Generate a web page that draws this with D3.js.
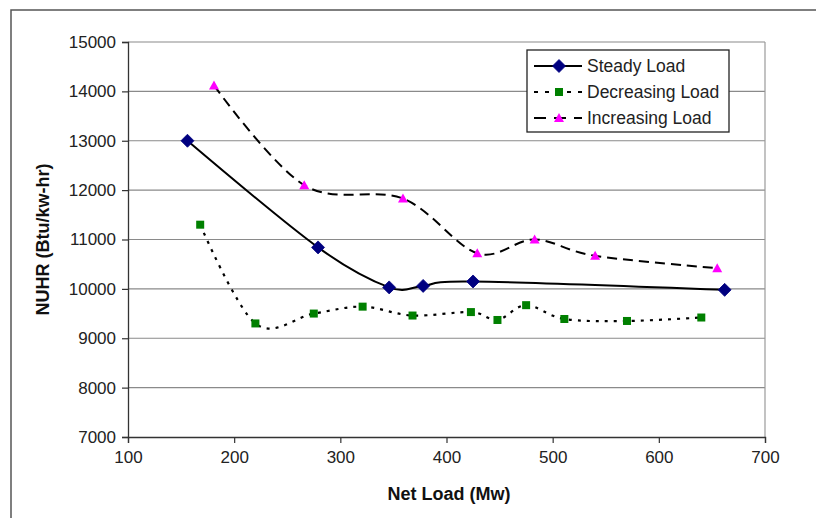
<!DOCTYPE html>
<html><head><meta charset="utf-8">
<script src="https://cdn.jsdelivr.net/npm/d3@7"></script>
<style>body{margin:0;background:#fff}svg{display:block}</style>
</head><body>
<svg id="c" width="816" height="518"></svg>
<script>
const steadyX = [156, 279, 346, 378, 425, 662];
const steadyY = [13000, 10840, 10030, 10060, 10150, 9980];
const decX = [168, 220, 275, 321, 368, 423, 448, 475, 511, 570, 640];
const decY = [11300, 9300, 9500, 9640, 9460, 9530, 9370, 9670, 9390, 9350, 9420];
const incX = [181, 266, 359, 429, 483, 540, 655];
const incY = [14120, 12100, 11830, 10720, 11000, 10670, 10420];
const xTicks = [100, 200, 300, 400, 500, 600, 700];
const yTicks = [7000, 8000, 9000, 10000, 11000, 12000, 13000, 14000, 15000];
const seriesNames = ["Steady Load", "Decreasing Load", "Increasing Load"];

const svg = d3.select("#c");
const L = 128, R = 765, T = 42, B = 437;
const x = d3.scaleLinear().domain([100, 700]).range([L, R]);
const y = d3.scaleLinear().domain([7000, 15000]).range([B, T]);
const font = "Liberation Sans, Arial, sans-serif";

// outer frame
svg.append("rect").attr("x", 11).attr("y", 10).attr("width", 830).attr("height", 540)
  .attr("fill", "none").attr("stroke", "#555").attr("stroke-width", 1.5);

// gridlines
svg.append("g").selectAll("line").data(yTicks.slice(1)).join("line")
  .attr("x1", L).attr("x2", R).attr("y1", d => y(d)).attr("y2", d => y(d))
  .attr("stroke", "#8a8a8a").attr("stroke-width", 1.2);
// right border
svg.append("line").attr("x1", R).attr("x2", R).attr("y1", T).attr("y2", B)
  .attr("stroke", "#9a9a9a").attr("stroke-width", 1.2);

// axes
const xAxis = d3.axisBottom(x).tickValues(xTicks).tickSize(6).tickPadding(8).tickFormat(d3.format("d"));
const yAxis = d3.axisLeft(y).tickValues(yTicks).tickSize(6).tickPadding(6).tickFormat(d3.format("d"));
const gx = svg.append("g").attr("transform", `translate(0,${B})`).call(xAxis);
const gy = svg.append("g").attr("transform", `translate(${L},0)`).call(yAxis);
[gx, gy].forEach(g => {
  g.select(".domain").attr("stroke", "#333").attr("stroke-width", 1.3);
  g.selectAll(".tick line").attr("stroke", "#333").attr("stroke-width", 1.2);
  g.selectAll(".tick text").attr("font-family", font).attr("font-size", 17).attr("fill", "#222");
});

// axis titles
svg.append("text").attr("x", 449).attr("y", 500).attr("text-anchor", "middle")
  .attr("font-family", font).attr("font-size", 18).attr("font-weight", "bold").attr("fill", "#111")
  .text("Net Load (Mw)");
svg.append("text").attr("transform", `translate(49,${(T + B) / 2}) rotate(-90)`).attr("text-anchor", "middle")
  .attr("font-family", font).attr("font-size", 18).attr("font-weight", "bold").attr("fill", "#111")
  .text("NUHR (Btu/kw-hr)");

const curve = d3.curveCatmullRom.alpha(0);
const line = d3.line().x(d => x(d[0])).y(d => y(d[1])).curve(curve);

const series = [
  { name: seriesNames[0], pts: d3.zip(steadyX, steadyY), dash: null, width: 2, marker: "diamond", color: "#000080" },
  { name: seriesNames[1], pts: d3.zip(decX, decY), dash: "3,6", width: 2.2, marker: "square", color: "#008000" },
  { name: seriesNames[2], pts: d3.zip(incX, incY), dash: "10,6", width: 2, marker: "triangle", color: "#ff00ff" }
];

function drawMarker(g, type, color, cx, cy) {
  if (type === "diamond") {
    g.append("path").attr("d", `M${cx},${cy - 6.5}L${cx + 6.5},${cy}L${cx},${cy + 6.5}L${cx - 6.5},${cy}Z`)
      .attr("fill", color).attr("stroke", color).attr("stroke-width", 0.8);
  } else if (type === "square") {
    g.append("rect").attr("x", cx - 4).attr("y", cy - 4).attr("width", 8).attr("height", 8).attr("fill", color);
  } else {
    g.append("path").attr("d", `M${cx},${cy - 5}L${cx + 5},${cy + 4}L${cx - 5},${cy + 4}Z`).attr("fill", color);
  }
}

series.forEach(s => {
  svg.append("path").attr("d", line(s.pts)).attr("fill", "none").attr("stroke", "#000")
    .attr("stroke-width", s.width).attr("stroke-dasharray", s.dash);
  const g = svg.append("g");
  s.pts.forEach(p => drawMarker(g, s.marker, s.color, x(p[0]), y(p[1])));
});

// legend
const lg = svg.append("g");
lg.append("rect").attr("x", 527).attr("y", 50).attr("width", 202).attr("height", 82)
  .attr("fill", "#fff").attr("stroke", "#222").attr("stroke-width", 1.3);
const rowsY = [66, 92, 118];
series.forEach((s, i) => {
  const yy = rowsY[i];
  lg.append("line").attr("x1", 534).attr("x2", 582).attr("y1", yy).attr("y2", yy)
    .attr("stroke", "#000").attr("stroke-width", s.width).attr("stroke-dasharray", s.dash ? (i === 1 ? "4,7" : "12,8") : null);
  drawMarker(lg, s.marker, s.color, 559, yy);
  lg.append("text").attr("x", 587).attr("y", yy + 6).attr("font-family", font).attr("font-size", 17.5)
    .attr("fill", "#222").text(s.name);
});
</script>
</body></html>
